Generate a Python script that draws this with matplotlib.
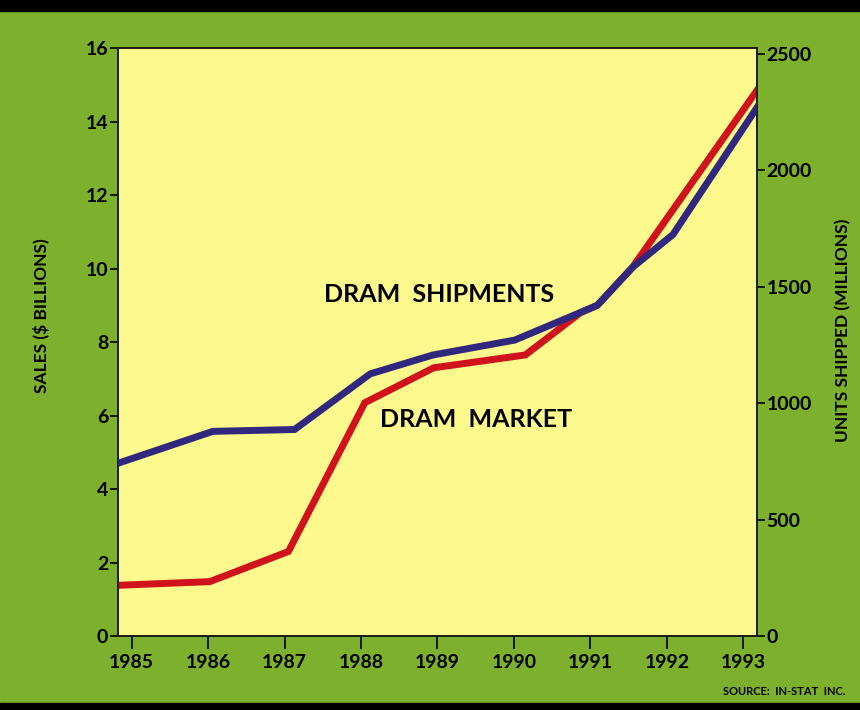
import matplotlib
matplotlib.use("Agg")
import matplotlib.pyplot as plt
from matplotlib.patches import Rectangle

plt.rcParams['font.family'] = ['Lato', 'DejaVu Sans']

# DRAM market sales ($ billions), left axis
sales_x = [1984.82, 1986.02, 1987.05, 1988.05, 1988.95, 1990.15, 1990.87, 1991.09, 1991.55, 1993.18]
sales_y = [1.38, 1.48, 2.3, 6.35, 7.3, 7.65, 8.8, 9.0, 10.03, 14.85]

# DRAM unit shipments (millions), right axis
units_x = [1984.82, 1986.06, 1987.13, 1988.12, 1988.94, 1990.01, 1991.09, 1991.55, 1992.08, 1993.18]
units_y = [742, 879, 887, 1126, 1207, 1271, 1420, 1583, 1724, 2270]

years = [1985, 1986, 1987, 1988, 1989, 1990, 1991, 1992, 1993]
sales_ticks = [0, 2, 4, 6, 8, 10, 12, 14, 16]
units_ticks = [0, 500, 1000, 1500, 2000, 2500]

green = '#7db02c'
yellow = '#fdf98c'
red = '#d0121c'
blue = '#30287e'

fig = plt.figure(figsize=(8.6, 7.1), dpi=100, facecolor=green)

# black bands top and bottom
fig.patches.append(Rectangle((0, 0.985), 1, 0.015, transform=fig.transFigure, color='black', zorder=0))
fig.patches.append(Rectangle((0, 0), 1, 0.01, transform=fig.transFigure, color='black', zorder=0))

ax = fig.add_axes([0.1372, 0.1042, 0.743, 0.828])
ax.set_facecolor(yellow)
ax.set_xlim(1984.82, 1993.18)
ax.set_ylim(0, 16)

ax2 = ax.twinx()
ax2.set_ylim(0, 2525)

ax.plot(sales_x, sales_y, color=red, linewidth=5, solid_joinstyle='miter', zorder=3)
ax2.plot(units_x, units_y, color=blue, linewidth=5, solid_joinstyle='miter', zorder=3)

for a in (ax, ax2):
    for s in a.spines.values():
        s.set_color('#1a1a1a')
        s.set_linewidth(1.2)

ax.set_xticks(years)
ax.set_xticklabels([str(y) for y in years])
ax.set_yticks(sales_ticks)
ax2.set_yticks(units_ticks)
ax.tick_params(axis='x', direction='out', length=9, width=1.2, pad=4, labelsize=14)
ax.tick_params(axis='y', direction='out', length=6, width=1.2, pad=1, labelsize=14)
ax2.tick_params(axis='y', direction='out', length=6, width=1.2, pad=1, labelsize=14)
for lbl in ax.get_xticklabels() + ax.get_yticklabels() + ax2.get_yticklabels():
    lbl.set_fontweight('bold')

# axis titles placed in the outer margins
fig.text(42 / 860, 1 - 316 / 710, 'SALES ($ BILLIONS)', fontsize=12.5, fontweight='bold',
         rotation=90, ha='center', va='center')
fig.text(843 / 860, 1 - 330 / 710, 'UNITS SHIPPED (MILLIONS)', fontsize=12.5, fontweight='bold',
         rotation=90, ha='center', va='center')

ax.text(1987.52, 9.3, 'DRAM  SHIPMENTS', fontsize=18, fontweight='bold', ha='left', va='center')
ax.text(1988.25, 5.9, 'DRAM  MARKET', fontsize=18, fontweight='bold', ha='left', va='center')

fig.text(0.983, 0.018, 'SOURCE:  IN-STAT  INC.', fontsize=8, fontweight='bold', ha='right', va='bottom')

fig.savefig('out.png', dpi=100, facecolor=fig.get_facecolor())
